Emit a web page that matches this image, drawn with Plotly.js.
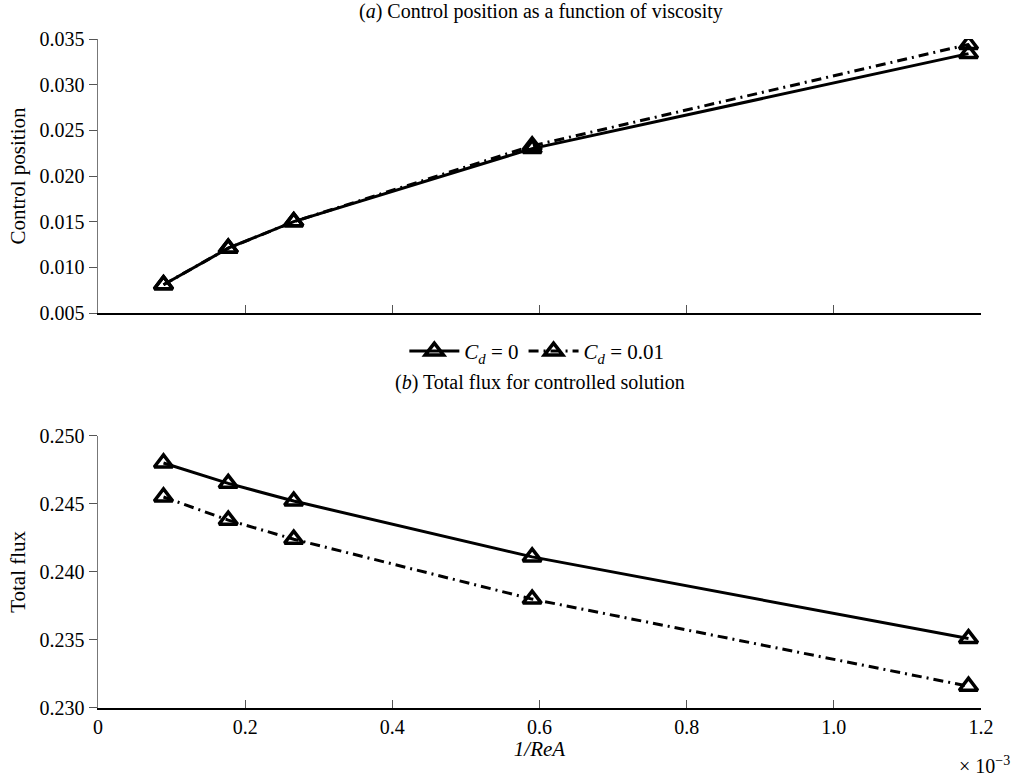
<!DOCTYPE html>
<html>
<head>
<meta charset="utf-8">
<script src="https://cdn.plot.ly/plotly-3.0.1.min.js"></script>
<style>html,body{margin:0;padding:0;background:#fff;}#chart{width:1014px;height:776px;}</style>
</head>
<body>
<div id="chart"></div>
<script>
// x values in units of 1e-3 (1/ReA)
const invReA = [0.089, 0.177, 0.266, 0.590, 1.183];
// (a) Control position
const posCd0 = [0.0081, 0.0121, 0.0150, 0.0230, 0.0334];
const posCd001 = [0.0081, 0.0121, 0.0150, 0.0233, 0.0344];
// (b) Total flux
const fluxCd0 = [0.2480, 0.2465, 0.2452, 0.2411, 0.2351];
const fluxCd001 = [0.2455, 0.2438, 0.2424, 0.2380, 0.2316];
const seriesNames = ['<i>C<sub>d</sub></i> = 0', '<i>C<sub>d</sub></i> = 0.01'];
const xTickVals = [0, 0.2, 0.4, 0.6, 0.8, 1.0, 1.2];
const xTickText = ['0', '0.2', '0.4', '0.6', '0.8', '1.0', '1.2'];

const FONT = '"Liberation Serif", "Times New Roman", serif';
const dashDot = '10px,5px,2px,5px';
const mk = {symbol: 'triangle-up-open', size: 16, color: '#000', line: {width: 3.5, color: '#000'}};

const traces = [
  {x: invReA, y: posCd0, xaxis: 'x', yaxis: 'y', mode: 'lines+markers', name: seriesNames[0],
   line: {color: '#000', width: 3}, marker: mk, showlegend: true, legendgroup: 'a'},
  {x: invReA, y: posCd001, xaxis: 'x', yaxis: 'y', mode: 'lines+markers', name: seriesNames[1],
   line: {color: '#000', width: 3, dash: dashDot}, marker: mk, showlegend: true, legendgroup: 'b'},
  {x: invReA, y: fluxCd0, xaxis: 'x2', yaxis: 'y2', mode: 'lines+markers', name: seriesNames[0],
   line: {color: '#000', width: 3}, marker: mk, showlegend: false, legendgroup: 'a'},
  {x: invReA, y: fluxCd001, xaxis: 'x2', yaxis: 'y2', mode: 'lines+markers', name: seriesNames[1],
   line: {color: '#000', width: 3, dash: dashDot}, marker: mk, showlegend: false, legendgroup: 'b'}
];

const xBase = {
  range: [0, 1.2], tickvals: xTickVals, ticktext: xTickText, ticks: 'inside', ticklen: 8,
  tickcolor: '#555', tickwidth: 1, showline: true, linecolor: '#000', linewidth: 1.5,
  showgrid: false, zeroline: false, tickfont: {family: FONT, size: 20, color: '#000'}
};
const yBase = {
  ticks: 'outside', ticklen: 8, tickcolor: '#555', tickwidth: 1, showline: true,
  linecolor: '#777', linewidth: 1.5, showgrid: false, zeroline: false,
  tickfont: {family: FONT, size: 20, color: '#000'}
};

const layout = {
  width: 1014, height: 776,
  margin: {l: 97.7, r: 33, t: 39.3, b: 67.7},
  paper_bgcolor: '#fff', plot_bgcolor: '#fff',
  font: {family: FONT, color: '#000'},
  showlegend: true,
  legend: {orientation: 'h', x: 0.497, y: 0.533, xanchor: 'center', yanchor: 'middle',
           font: {family: FONT, size: 21, color: '#000'}, itemwidth: 50, traceorder: 'normal'},
  xaxis: Object.assign({}, xBase, {anchor: 'y', showticklabels: false, matches: 'x2'}),
  yaxis: Object.assign({}, yBase, {domain: [0.5904, 1], range: [0.005, 0.035], dtick: 0.005,
    tick0: 0.005, tickformat: '.3f',
    title: {text: 'Control position', font: {family: FONT, size: 21, color: '#000'}, standoff: 8}}),
  xaxis2: Object.assign({}, xBase, {anchor: 'y2',
    title: {text: '<i>1/ReA</i>', font: {family: FONT, size: 21, color: '#000'}, standoff: 4}}),
  yaxis2: Object.assign({}, yBase, {domain: [0, 0.407], range: [0.230, 0.250], dtick: 0.005,
    tick0: 0.230, tickformat: '.3f',
    title: {text: 'Total flux', font: {family: FONT, size: 21, color: '#000'}, standoff: 8}}),
  annotations: [
    {text: '(<i>a</i>) Control position as a function of viscosity', xref: 'paper', yref: 'paper',
     x: 0.502, y: 1.0408, xanchor: 'center', yanchor: 'middle', showarrow: false,
     font: {family: FONT, size: 20, color: '#000'}},
    {text: '(<i>b</i>) Total flux for controlled solution', xref: 'paper', yref: 'paper',
     x: 0.501, y: 0.486, xanchor: 'center', yanchor: 'middle', showarrow: false,
     font: {family: FONT, size: 20, color: '#000'}},
    {text: '× 10<sup>−3</sup>', xref: 'paper', yref: 'paper', x: 1.035, y: -0.085,
     xanchor: 'right', yanchor: 'middle', showarrow: false,
     font: {family: FONT, size: 20, color: '#000'}}
  ]
};

Plotly.newPlot('chart', traces, layout, {displayModeBar: false, staticPlot: true});
</script>
</body>
</html>
